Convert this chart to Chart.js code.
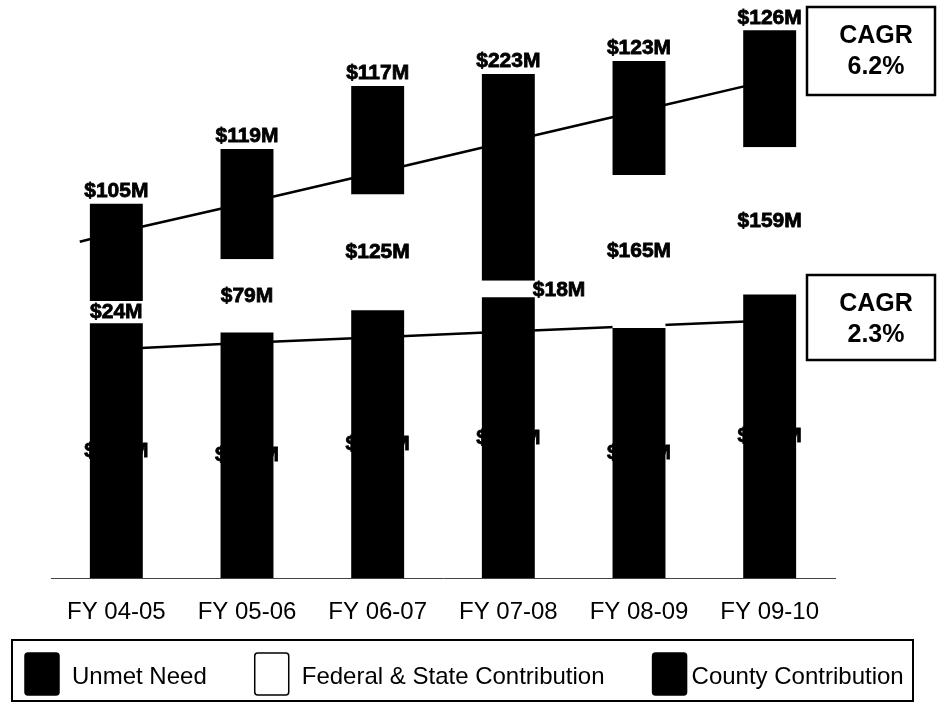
<!DOCTYPE html>
<html>
<head>
<meta charset="utf-8">
<title>Funding by Fiscal Year</title>
<script src="https://cdn.jsdelivr.net/npm/chart.js@4.4.0/dist/chart.umd.min.js"></script>
<style>
  html, body { margin: 0; padding: 0; background: #fff; }
</style>
</head>
<body>
<canvas id="fundingChart" width="940" height="702"></canvas>
<script>
// fiscal years and stacked amounts ($M), bottom to top
const years = ['FY 04-05', 'FY 05-06', 'FY 06-07', 'FY 07-08', 'FY 08-09', 'FY 09-10'];
const countyContribution = [275, 265, 289, 303, 270, 306];
const federalStateContribution = [24, 79, 125, 18, 165, 159];
const unmetNeed = [105, 119, 117, 223, 123, 126];

// trend lines ($M) at each year; the upper one starts a bit left of the first bar
const upperTrendPos = [-0.28, 0, 1, 2, 3, 4, 5];
const upperTrend = [363, 373, 405, 438, 471, 504, 537];
const lowerTrendPos = [0, 1, 2, 3, 4, 5];
const lowerTrend = [247, 254, 260, 266, 272, 278];

const cagrRates = ['6.2%', '2.3%'];

const FONT = '"Liberation Sans", Arial, sans-serif';

const toPoints = (xs, ys) => xs.map((x, i) => ({ x: x, y: ys[i] }));

// dollar labels on each bar segment
const valueLabels = {
  id: 'valueLabels',
  afterDatasetsDraw(chart) {
    const ctx = chart.ctx;
    ctx.save();
    ctx.font = 'bold 21px ' + FONT;
    ctx.fillStyle = '#000';
    ctx.strokeStyle = '#000';
    ctx.lineWidth = 0.8;
    const put = (text, x, y) => {
      ctx.fillText(text, x, y);
      ctx.strokeText(text, x, y);
    };
    chart.data.datasets.forEach((ds, di) => {
      if (ds.type === 'line') return;
      chart.getDatasetMeta(di).data.forEach((bar, i) => {
        const text = '$' + ds.data[i] + 'M';
        const top = Math.min(bar.y, bar.base);
        const bottom = Math.max(bar.y, bar.base);
        if (ds.labelAt === 'top') {
          ctx.textAlign = 'center';
          ctx.textBaseline = 'bottom';
          put(text, bar.x, top - 2);
        } else if (bottom - top < 20) {
          // too thin to hold the text, put it beside the bar
          ctx.textAlign = 'left';
          ctx.textBaseline = 'middle';
          put(text, bar.x + bar.width / 2 - 2, (top + bottom) / 2 + 1);
        } else {
          ctx.textAlign = 'center';
          ctx.textBaseline = 'middle';
          put(text, bar.x, (top + bottom) / 2);
        }
      });
    });
    ctx.restore();
  }
};

// CAGR call-out boxes
const cagrBoxes = {
  id: 'cagrBoxes',
  afterDraw(chart, args, opts) {
    const ctx = chart.ctx;
    ctx.save();
    opts.boxes.forEach((b, i) => {
      ctx.fillStyle = '#fff';
      ctx.fillRect(b.x, b.y, b.w, b.h);
      ctx.lineWidth = 2.5;
      ctx.strokeStyle = '#000';
      ctx.strokeRect(b.x, b.y, b.w, b.h);
      ctx.fillStyle = '#000';
      ctx.font = 'bold 25px ' + FONT;
      ctx.textAlign = 'center';
      ctx.textBaseline = 'middle';
      ctx.fillText('CAGR', b.x + 69, b.y + 29);
      ctx.fillText(cagrRates[i], b.x + 69, b.y + 60);
    });
    ctx.restore();
  }
};

// legend drawn inside a framed box under the axis
const boxedLegend = {
  id: 'boxedLegend',
  afterDraw(chart, args, opts) {
    const ctx = chart.ctx;
    const f = opts.frame;
    ctx.save();
    ctx.lineWidth = 2;
    ctx.strokeStyle = '#000';
    ctx.strokeRect(f.left, f.top, f.right - f.left, f.bottom - f.top);
    ctx.font = '24px ' + FONT;
    ctx.textAlign = 'left';
    ctx.textBaseline = 'middle';
    const cy = f.top + 34;
    let x = f.left + 13;
    const items = chart.data.datasets.filter(d => d.type !== 'line').slice().reverse();
    items.forEach((ds, i) => {
      ctx.beginPath();
      ctx.roundRect(x, cy - 21, 34, 42, 3);
      ctx.fillStyle = ds.backgroundColor;
      ctx.fill();
      ctx.lineWidth = 1.5;
      ctx.stroke();
      x += 34 + (i === items.length - 1 ? 5 : 13);
      ctx.fillStyle = '#000';
      ctx.fillText(ds.label, x, cy + 3);
      x += ctx.measureText(ds.label).width + opts.gap;
    });
    ctx.restore();
  }
};

new Chart(document.getElementById('fundingChart'), {
  type: 'bar',
  data: {
    labels: years,
    datasets: [
      {
        label: 'County Contribution',
        data: countyContribution,
        backgroundColor: '#000',
        borderWidth: 0,
        stack: 'funding'
      },
      {
        label: 'Federal & State Contribution',
        data: federalStateContribution,
        backgroundColor: '#fff',
        borderWidth: 0,
        stack: 'funding'
      },
      {
        label: 'Unmet Need',
        data: unmetNeed,
        backgroundColor: '#000',
        borderWidth: 0,
        stack: 'funding',
        labelAt: 'top'
      },
      {
        type: 'line',
        label: 'Upper trend',
        data: toPoints(upperTrendPos, upperTrend),
        xAxisID: 'xt',
        yAxisID: 'yt',
        borderColor: '#000',
        borderWidth: 2.5,
        pointRadius: 0,
        tension: 0
      },
      {
        type: 'line',
        label: 'Lower trend',
        data: toPoints(lowerTrendPos, lowerTrend),
        xAxisID: 'xt',
        yAxisID: 'yt',
        borderColor: '#000',
        borderWidth: 2.5,
        pointRadius: 0,
        tension: 0
      }
    ]
  },
  options: {
    responsive: false,
    animation: false,
    layout: {
      padding: { left: 51, right: 105, top: 22, bottom: 55 }
    },
    datasets: {
      bar: {
        grouped: false,
        categoryPercentage: 1,
        barPercentage: 0.405
      }
    },
    scales: {
      x: {
        stacked: true,
        grid: { display: false, drawTicks: false },
        border: { display: true, color: '#444', width: 1 },
        ticks: {
          color: '#000',
          padding: 20,
          font: { size: 24, family: FONT }
        }
      },
      y: {
        stacked: true,
        display: false,
        min: 0,
        max: 600
      },
      xt: {
        type: 'linear',
        display: false,
        offset: false,
        min: -0.5,
        max: 5.5
      },
      yt: {
        type: 'linear',
        display: false,
        min: 0,
        max: 600
      }
    },
    plugins: {
      legend: { display: false },
      tooltip: { enabled: false },
      cagrBoxes: {
        boxes: [
          { x: 807, y: 7, w: 128, h: 88 },
          { x: 807, y: 275, w: 128, h: 85 }
        ]
      },
      boxedLegend: {
        frame: { left: 12, top: 640, right: 913, bottom: 701 },
        gap: 48
      }
    }
  },
  plugins: [valueLabels, cagrBoxes, boxedLegend]
});
</script>
</body>
</html>
